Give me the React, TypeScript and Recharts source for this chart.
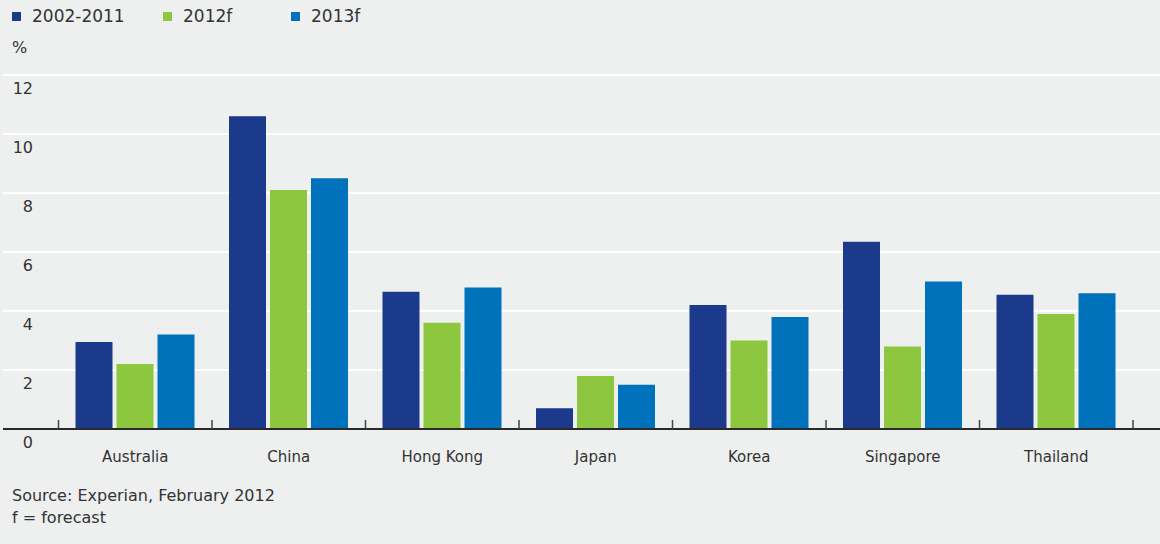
import { BarChart, Bar, XAxis, YAxis, CartesianGrid } from "recharts";

// values
const countries = ["Australia", "China", "Hong Kong", "Japan", "Korea", "Singapore", "Thailand"];
const avg2002to2011 = [2.95, 10.6, 4.65, 0.7, 4.2, 6.35, 4.55];
const forecast2012 = [2.2, 8.1, 3.6, 1.8, 3.0, 2.8, 3.9];
const forecast2013 = [3.2, 8.5, 4.8, 1.5, 3.8, 5.0, 4.6];
const yTicks = [0, 2, 4, 6, 8, 10, 12];

const seriesNames = ["2002-2011", "2012f", "2013f"];
const seriesKeys = ["a", "b", "c"];
const seriesColors = ["#1b3a8b", "#8dc63f", "#0071bb"];

const data = countries.map((name, i) => ({
  name,
  a: avg2002to2011[i],
  b: forecast2012[i],
  c: forecast2013[i],
}));

const W = 1160;
const H = 544;
const Y_AXIS_W = 40;
const X_AXIS_H = 1;
const MARGIN = { top: 75, right: 0, bottom: 115 - X_AXIS_H, left: 3 - Y_AXIS_W };
const PAD = { left: 55.5, right: 27 };
const PLOT_BOTTOM = H - MARGIN.bottom - X_AXIS_H;
const BAND = (W - 3 - MARGIN.right - PAD.left - PAD.right) / countries.length;
const FONT = "'DejaVu Sans', Verdana, sans-serif";
const TEXT = "#333";
const LEGEND_LEFT = [12, 163, 291];

function renderCategoryTick(props: any) {
  const { x, payload, index } = props;
  const left = x - BAND / 2;
  return (
    <g key={payload.value}>
      <line x1={left} x2={left} y1={PLOT_BOTTOM - 9} y2={PLOT_BOTTOM} stroke="#444" strokeWidth={1.5} />
      {index === countries.length - 1 && (
        <line x1={x + BAND / 2} x2={x + BAND / 2} y1={PLOT_BOTTOM - 9} y2={PLOT_BOTTOM} stroke="#444" strokeWidth={1.5} />
      )}
      <text x={x} y={PLOT_BOTTOM + 33} textAnchor="middle" fontSize={15} fill={TEXT} fontFamily={FONT}>
        {payload.value}
      </text>
    </g>
  );
}

function renderValueTick(props: any) {
  const { y, payload } = props;
  return (
    <text key={payload.value} x={33} y={y + 19} textAnchor="end" fontSize={16} fill={TEXT} fontFamily={FONT}>
      {payload.value}
    </text>
  );
}

export default function App() {
  return (
    <div style={{ position: "absolute", left: 0, top: 0, width: W, height: H, background: "#eef0ef", fontFamily: FONT, color: TEXT }}>
      {seriesNames.map((n, i) => (
        <div key={n} style={{ position: "absolute", left: LEGEND_LEFT[i], top: 6, display: "flex", alignItems: "center", fontSize: 17 }}>
          <span style={{ display: "inline-block", width: 9, height: 9, background: seriesColors[i], marginRight: 11 }} />
          <span>{n}</span>
        </div>
      ))}
      <div style={{ position: "absolute", left: 12, top: 38, fontSize: 16 }}>%</div>
      <BarChart width={W} height={H} data={data} margin={MARGIN} barSize={37} barGap={4} style={{ overflow: "visible" }}>
        <CartesianGrid horizontal vertical={false} stroke="#ffffff" strokeWidth={2} />
        <XAxis
          dataKey="name"
          height={X_AXIS_H}
          padding={PAD}
          tick={renderCategoryTick}
          tickLine={false}
          tickSize={0}
          axisLine={{ stroke: "#2a2a2a", strokeWidth: 2 }}
          interval={0}
        />
        <YAxis
          width={Y_AXIS_W}
          domain={[0, 12]}
          ticks={yTicks}
          interval={0}
          axisLine={false}
          tickLine={false}
          tick={renderValueTick}
        />
        {seriesKeys.map((k, i) => (
          <Bar key={k} dataKey={k} name={seriesNames[i]} fill={seriesColors[i]} isAnimationActive={false} />
        ))}
      </BarChart>
      <div style={{ position: "absolute", left: 12, top: 485, fontSize: 16, lineHeight: "22px" }}>
        Source: Experian, February 2012
        <br />
        f = forecast
      </div>
    </div>
  );
}
